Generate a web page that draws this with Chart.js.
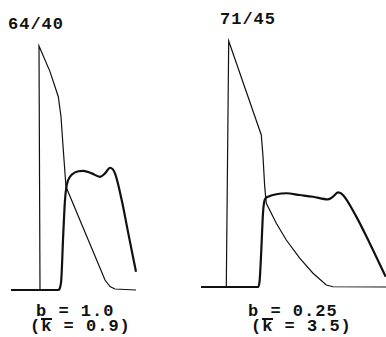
<!DOCTYPE html>
<html><head><meta charset="utf-8">
<script src="https://cdn.jsdelivr.net/npm/chart.js@4.4.0/dist/chart.umd.min.js"></script>
<style>
html,body{margin:0;padding:0;background:#fff;width:386px;height:337px;overflow:hidden;}
.box{position:absolute;}
.lbl{position:absolute;font-family:"Liberation Mono","DejaVu Sans Mono",monospace;font-weight:bold;font-size:17px;line-height:17px;letter-spacing:1px;color:#111;white-space:pre;}
.ov{display:inline-block;border-top:2px solid #111;line-height:13px;}
</style></head><body>
<div class="box" style="left:6px;top:36px;width:135px;height:260px;"><canvas id="c1"></canvas></div>
<div class="box" style="left:196px;top:31px;width:190px;height:262px;"><canvas id="c2"></canvas></div>
<div class="lbl" style="left:8px;top:16px;">64/40</div>
<div class="lbl" style="left:220px;top:11px;">71/45</div>
<div class="lbl" style="left:36px;top:303px;">b = 1.0</div>
<div class="lbl" style="left:30px;top:318px;">(<span class="ov">k</span> = 0.9)</div>
<div class="lbl" style="left:248px;top:303px;">b = 0.25</div>
<div class="lbl" style="left:251px;top:318px;">(<span class="ov">k</span> = 3.5)</div>
<script>
// Panel 1 (64/40, b = 1.0)
const p1ThinX = [0, 29, 28, 39, 47.3, 50, 52.3, 55, 94, 99, 104, 125];
const p1ThinY = [0, 0, 100, 89.5, 79.2, 71, 57.4, 42.3, 4.1, 1.4, 0.4, 0];
const p1ThickX = [0, 47, 50, 52.3, 54, 55.7, 59, 64, 72.3, 80.7, 89, 94, 99, 104, 110.7, 117.3, 125];
const p1ThickY = [0, 0, 2.9, 23.3, 36.9, 43, 46.4, 48.2, 48.8, 47.8, 46.4, 47.8, 50.1, 47.8, 36.9, 23.2, 7.5];
// Panel 2 (71/45, b = 0.25)
const p2ThinX = [0, 25.3, 27.7, 60.3, 62, 63.7, 65.3, 75.3, 85.3, 98.7, 112, 125.3, 132, 185];
const p2ThinY = [0, 0, 100, 61.8, 53, 40.8, 34, 25.9, 19.1, 11.7, 5.6, 0.8, 0.1, 0];
const p2ThickX = [0, 57, 58.7, 60.3, 62, 63.7, 67, 75.3, 85.3, 98.7, 112, 127, 132, 137, 142, 155.3, 168.7, 184.7];
const p2ThickY = [0, 0, 2.8, 15, 30, 35.4, 36.7, 37.7, 38.1, 37.4, 36.7, 35.6, 36.7, 38.5, 37.4, 28.6, 17.8, 4.2];

function pts(xs, ys){ return xs.map((x,i)=>({x:x, y:ys[i]})); }

function make(id, thinX, thinY, thickX, thickY, xmax, pad){
  new Chart(document.getElementById(id), {
    type: 'line',
    data: { datasets: [
      { data: pts(thickX, thickY), borderColor:'#111', borderWidth:2.2, pointRadius:0, cubicInterpolationMode:'monotone', clip:false, fill:false },
      { data: pts(thinX, thinY), borderColor:'#111', borderWidth:1.2, pointRadius:0, tension:0, clip:false, fill:false }
    ]},
    options: {
      responsive:true, maintainAspectRatio:false, animation:false,
      layout:{ padding: pad },
      plugins:{ legend:{display:false}, tooltip:{enabled:false}, title:{display:false} },
      scales:{
        x:{ type:'linear', min:0, max:xmax, display:false },
        y:{ type:'linear', min:0, max:100, display:false }
      }
    }
  });
}
make('c1', p1ThinX, p1ThinY, p1ThickX, p1ThickY, 125, {left:5,right:5,top:10,bottom:6});
make('c2', p2ThinX, p2ThinY, p2ThickX, p2ThickY, 185, {left:5,right:0,top:10,bottom:6});
</script>
</body></html>
